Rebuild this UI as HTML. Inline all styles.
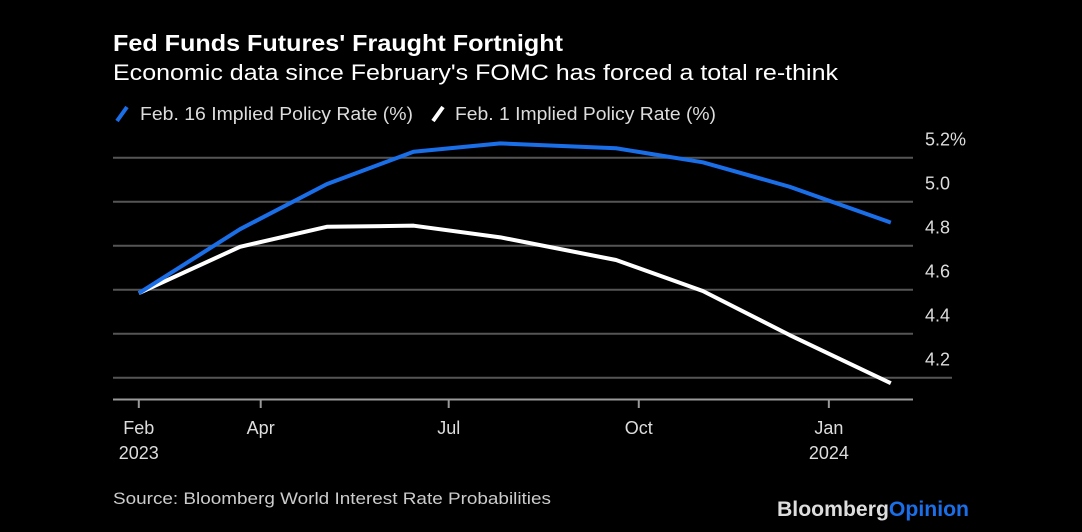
<!DOCTYPE html>
<html><head><meta charset="utf-8"><style>
body{margin:0;background:#000;width:1082px;height:527px;overflow:hidden;font-family:"Liberation Sans",sans-serif;color:#fff}
svg text{font-family:"Liberation Sans",sans-serif}
</style></head><body>
<svg width="1082" height="527">
<text x="113" y="51" font-size="23" font-weight="bold" fill="#fff" textLength="450" lengthAdjust="spacingAndGlyphs">Fed Funds Futures' Fraught Fortnight</text>
<text x="113" y="80" font-size="22" fill="#fff" textLength="725" lengthAdjust="spacingAndGlyphs">Economic data since February's FOMC has forced a total re-think</text>
<g>
<line x1="117" y1="121" x2="127" y2="107" stroke="#1a6fe8" stroke-width="4"/>
<text x="140" y="120" font-size="18" fill="#ddd" textLength="273" lengthAdjust="spacingAndGlyphs">Feb. 16 Implied Policy Rate (%)</text>
<line x1="433" y1="121" x2="443" y2="107" stroke="#fff" stroke-width="4"/>
<text x="455" y="120" font-size="18" fill="#ddd" textLength="261" lengthAdjust="spacingAndGlyphs">Feb. 1 Implied Policy Rate (%)</text>
</g>
<g id="grid"></g><g id="lines"></g><g id="xaxis"></g>
<text x="113" y="504" font-size="17" fill="#ccc" textLength="438" lengthAdjust="spacingAndGlyphs">Source: Bloomberg World Interest Rate Probabilities</text>
<text x="777" y="516" font-size="21" font-weight="bold" fill="#ddd" textLength="192" lengthAdjust="spacingAndGlyphs">Bloomberg<tspan fill="#1a6fe8">Opinion</tspan></text>
</svg>
<script>
const dayOffsets=[0,49,91,133,175,231,273,315,364];
const feb16Values=[4.584,4.875,5.080,5.227,5.265,5.243,5.179,5.068,4.905];
const feb1Values=[4.584,4.795,4.886,4.891,4.838,4.735,4.594,4.394,4.175];
const yTicks=[4.2,4.4,4.6,4.8,5.0,5.2];
const yTickLabels=["4.2","4.4","4.6","4.8","5.0","5.2%"];
const xTickDays=[0,59,150,242,334];
const xTickLabels=["Feb","Apr","Jul","Oct","Jan"];
const xTickYears=["2023","","","","2024"];
const NS="http://www.w3.org/2000/svg";
const xs=d=>138.8+d*2.066;
const ys=v=>157.7+(5.2-v)*220;
function mk(t,a,p){const e=document.createElementNS(NS,t);for(const k in a)e.setAttribute(k,a[k]);p.appendChild(e);return e;}
const grid=document.getElementById('grid');
yTicks.forEach((v,i)=>{
 const l=mk('line',{x1:113,x2:i===0?952:913,y1:ys(v),y2:ys(v),stroke:'#555','stroke-width':2},grid);
 
 
 const t=mk('text',{x:925,y:ys(v)-12,'font-size':18,fill:'#ddd'},grid);t.textContent=yTickLabels[i];
 
 
});
const xa=document.getElementById('xaxis');
const ax=mk('line',{x1:113,x2:913,y1:399.5,y2:399.5,stroke:'#999','stroke-width':2},xa);


xTickDays.forEach((d,i)=>{
 const tk=mk('line',{x1:xs(d),x2:xs(d),y1:399,y2:408,stroke:'#999','stroke-width':2},xa);
 
 
 const t=mk('text',{x:xs(d),y:434,'font-size':18,fill:'#ddd','text-anchor':'middle'},xa);t.textContent=xTickLabels[i];
 
 
 if(xTickYears[i]){const y=mk('text',{x:xs(d),y:459,'font-size':18,fill:'#ddd','text-anchor':'middle'},xa);y.textContent=xTickYears[i];
 
 }
});
const lg=document.getElementById('lines');
function series(vals,col,name){
 const p=mk('polyline',{points:vals.map((v,i)=>xs(dayOffsets[i])+','+ys(v)).join(' '),fill:'none',stroke:col,'stroke-width':4,'stroke-linejoin':'round'},lg);
 
 
}
series(feb1Values,'#fff','line-feb1');
series(feb16Values,'#1a6fe8','line-feb16');
</script>
</body></html>
